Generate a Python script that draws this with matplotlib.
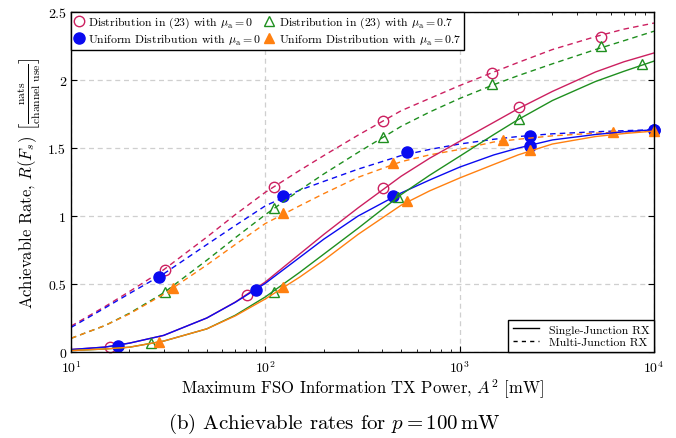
import matplotlib

matplotlib.use("Agg")
import matplotlib.pyplot as plt
from matplotlib.lines import Line2D

plt.rcParams["font.family"] = ["cmr10", "DejaVu Serif"]
plt.rcParams["mathtext.fontset"] = "cm"
plt.rcParams["axes.formatter.use_mathtext"] = True

# common x grid for the curves (mW)
power = [10, 15, 20, 30, 50, 70, 100, 150, 200, 300, 500, 700, 1000, 1500, 2000, 3000, 5000, 7000, 10000]

# multi-junction RX (dashed)
dist0_multi = [0.19, 0.335, 0.445, 0.605, 0.845, 1.01, 1.175, 1.335, 1.445, 1.595, 1.775, 1.865, 1.96, 2.06, 2.13, 2.225, 2.32, 2.375, 2.42]
unif0_multi = [0.18, 0.325, 0.43, 0.575, 0.79, 0.93, 1.075, 1.19, 1.255, 1.345, 1.445, 1.49, 1.53, 1.565, 1.585, 1.605, 1.62, 1.628, 1.635]
dist07_multi = [0.10, 0.195, 0.285, 0.435, 0.675, 0.84, 1.01, 1.19, 1.31, 1.468, 1.66, 1.765, 1.865, 1.967, 2.033, 2.12, 2.225, 2.29, 2.36]
unif07_multi = [0.10, 0.195, 0.28, 0.425, 0.64, 0.79, 0.945, 1.075, 1.165, 1.285, 1.40, 1.45, 1.49, 1.545, 1.565, 1.59, 1.61, 1.618, 1.625]

# single-junction RX (solid)
dist0_single = [0.018, 0.036, 0.065, 0.122, 0.25, 0.367, 0.515, 0.72, 0.865, 1.06, 1.293, 1.425, 1.55, 1.69, 1.79, 1.917, 2.06, 2.135, 2.20]
unif0_single = [0.018, 0.036, 0.065, 0.122, 0.25, 0.365, 0.505, 0.695, 0.83, 1.0, 1.17, 1.265, 1.36, 1.45, 1.50, 1.56, 1.60, 1.62, 1.635]
dist07_single = [0.01, 0.022, 0.035, 0.08, 0.17, 0.27, 0.405, 0.585, 0.72, 0.91, 1.158, 1.30, 1.44, 1.60, 1.71, 1.85, 1.99, 2.065, 2.14]
unif07_single = [0.01, 0.022, 0.035, 0.08, 0.17, 0.265, 0.39, 0.55, 0.675, 0.865, 1.08, 1.185, 1.28, 1.38, 1.45, 1.53, 1.585, 1.607, 1.625]

# marker positions
mk_dist0_multi = ([30.3, 111, 402, 1469, 5358], [0.605, 1.216, 1.70, 2.05, 2.318])
mk_unif0_multi = ([28.4, 123, 535, 2301, 10000], [0.549, 1.144, 1.468, 1.59, 1.635])
mk_dist07_multi = ([30.5, 111, 402, 1469, 5358], [0.439, 1.056, 1.585, 1.97, 2.25])
mk_unif07_multi = ([33.3, 123, 452, 1667, 6138], [0.468, 1.022, 1.39, 1.559, 1.62])
mk_dist0_single = ([15.8, 80.2, 402, 2028], [0.039, 0.42, 1.203, 1.80])
mk_unif0_single = ([17.4, 89.5, 456, 2301, 10000], [0.046, 0.456, 1.145, 1.512, 1.635])
mk_dist07_single = ([25.7, 111, 479, 2028, 8690], [0.064, 0.443, 1.137, 1.717, 2.118])
mk_unif07_single = ([28.4, 123, 535, 2301, 10000], [0.074, 0.478, 1.108, 1.485, 1.625])

RED = "#cc2060"
BLUE = "#0a0af0"
GREEN = "#1f8f1f"
ORANGE = "#ff8010"

fig = plt.figure(figsize=(6.76, 4.39), dpi=100)
ax = fig.add_axes([0.105, 0.196, 0.8625, 0.774])

series = [
    (dist0_multi, mk_dist0_multi, RED, "--", "o", "none"),
    (unif0_multi, mk_unif0_multi, BLUE, "--", "o", BLUE),
    (dist07_multi, mk_dist07_multi, GREEN, "--", "^", "none"),
    (unif07_multi, mk_unif07_multi, ORANGE, "--", "^", ORANGE),
    (dist0_single, mk_dist0_single, RED, "-", "o", "none"),
    (unif0_single, mk_unif0_single, BLUE, "-", "o", BLUE),
    (dist07_single, mk_dist07_single, GREEN, "-", "^", "none"),
    (unif07_single, mk_unif07_single, ORANGE, "-", "^", ORANGE),
]

for vals, mk, col, ls, m, fc in series:
    if ls == "--":
        ax.plot(power, vals, color=col, lw=1.0, dashes=(4, 3))
    else:
        ax.plot(power, vals, color=col, lw=1.0)
    ms = 8 if fc != "none" else 7.5
    if m == "^":
        ms = 7
    ax.plot(mk[0], mk[1], ls="none", marker=m, ms=ms, mfc=fc, mec=col, mew=1.0, clip_on=False)

ax.set_xscale("log")
ax.set_xlim(10, 10000)
ax.set_ylim(0, 2.5)
ax.set_yticks([0, 0.5, 1, 1.5, 2, 2.5])
ax.set_yticklabels(["0", "0.5", "1", "1.5", "2", "2.5"])
ax.grid(True, which="major", ls=(0, (4, 3)), color="#cfcfcf", lw=0.9)
ax.tick_params(which="both", direction="in", top=True, right=True, labelsize=10)
ax.tick_params(which="major", length=4)
ax.tick_params(which="minor", length=2.5)
ax.tick_params(axis="x", which="major", pad=5)
for sp in ax.spines.values():
    sp.set_linewidth(1.0)

ax.set_xlabel(r"Maximum FSO Information TX Power, $A^2$ [mW]", fontsize=12, labelpad=1)
ax.set_ylabel(r"Achievable Rate, $R(F_s)$ $\left[\frac{\mathrm{nats}}{\mathrm{channel\ use}}\right]$", fontsize=12)

handles = [
    Line2D([], [], ls="none", marker="o", ms=7.5, mfc="none", mec=RED),
    Line2D([], [], ls="none", marker="o", ms=8, mfc=BLUE, mec=BLUE),
    Line2D([], [], ls="none", marker="^", ms=7, mfc="none", mec=GREEN),
    Line2D([], [], ls="none", marker="^", ms=7, mfc=ORANGE, mec=ORANGE),
]
labels = [
    r"Distribution in (23) with $\mu_\mathrm{a}=0$",
    r"Uniform Distribution with $\mu_\mathrm{a}=0$",
    r"Distribution in (23) with $\mu_\mathrm{a}=0.7$",
    r"Uniform Distribution with $\mu_\mathrm{a}=0.7$",
]
leg1 = ax.legend(handles, labels, ncol=2, loc="upper left", borderaxespad=0, fontsize=8.5,
                 fancybox=False, edgecolor="black", framealpha=1, handlelength=0.8,
                 handletextpad=0.4, columnspacing=0.3, labelspacing=0.1, borderpad=0.25)
leg1.get_frame().set_linewidth(1.0)
ax.add_artist(leg1)

handles2 = [
    Line2D([], [], color="black", lw=1.0),
    Line2D([], [], color="black", lw=1.0, dashes=(3, 3)),
]
leg2 = ax.legend(handles2, ["Single-Junction RX", "Multi-Junction RX"], loc="lower right",
                 borderaxespad=0, fontsize=8.5, fancybox=False, edgecolor="black",
                 framealpha=1, handlelength=2.2, labelspacing=0.2)
leg2.get_frame().set_linewidth(1.0)

fig.text(0.494, 0.022, r"(b) Achievable rates for $p = 100\,\mathrm{mW}$", ha="center", fontsize=15)

fig.savefig("out.png", dpi=100)
